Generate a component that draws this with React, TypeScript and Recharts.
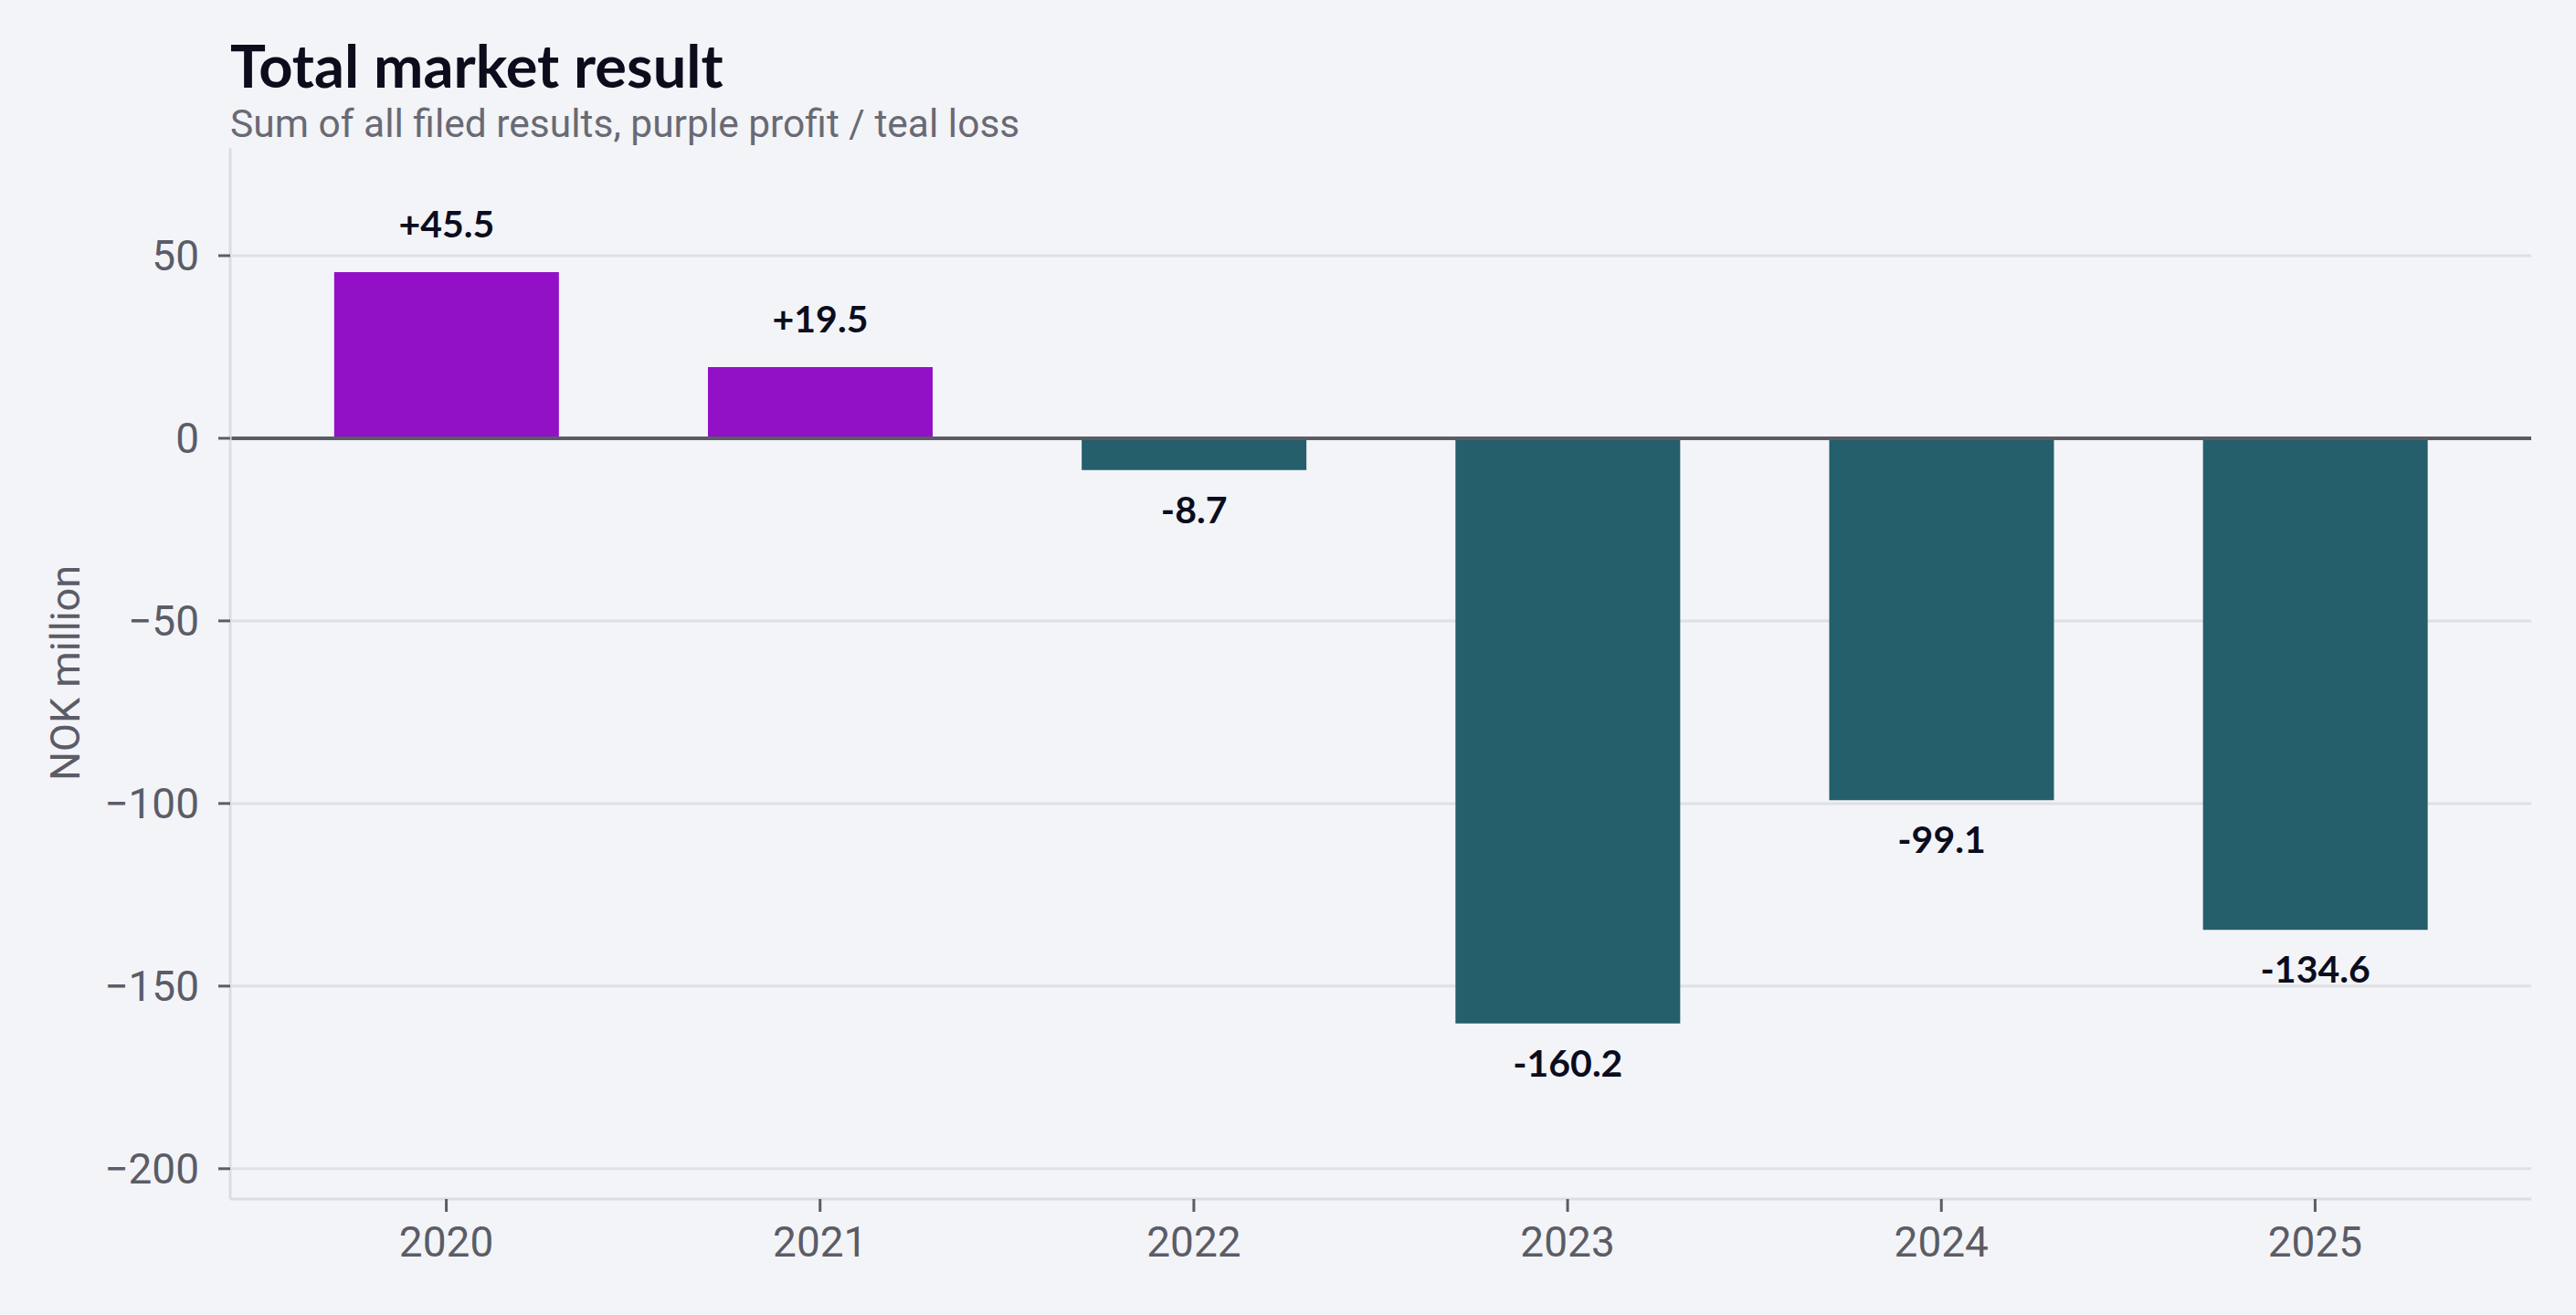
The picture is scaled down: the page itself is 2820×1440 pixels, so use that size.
import React from "react";
import {
  BarChart,
  Bar,
  XAxis,
  YAxis,
  CartesianGrid,
  ReferenceLine,
  LabelList,
  Cell,
} from "recharts";

const years = ["2020", "2021", "2022", "2023", "2024", "2025"];
const results = [45.5, 19.5, -8.7, -160.2, -99.1, -134.6];
const yTicks = [-200, -150, -100, -50, 0, 50];

const data = years.map((year, i) => ({ year, result: results[i] }));

const BG = "#f3f4f8";
const PROFIT = "#9210c6";
const LOSS = "#245f6b";
const AXIS_TEXT = "#5b5c66";

const ValueLabel = (props: any) => {
  const { x, y, width, height, value } = props;
  const top = Math.min(y, y + height);
  const bottom = Math.max(y, y + height);
  const text = value > 0 ? `+${value.toFixed(1)}` : value.toFixed(1);
  return (
    <text
      x={x + width / 2}
      y={value >= 0 ? top - 38 : bottom + 58}
      textAnchor="middle"
      fill="#0b0d1e"
      fontFamily="Lato"
      fontWeight="bold"
      fontSize={41}
    >
      {text}
    </text>
  );
};

const AxisTitle = () => (
  <text
    transform="translate(87, 737) rotate(-90)"
    textAnchor="middle"
    fill={AXIS_TEXT}
    fontFamily="Roboto"
    fontSize={45}
  >
    NOK million
  </text>
);

export default function App() {
  return (
    <div
      style={{
        position: "fixed",
        top: 0,
        left: 0,
        width: 2820,
        height: 1440,
        background: BG,
      }}
    >
      <svg
        width={2820}
        height={160}
        style={{ position: "absolute", top: 0, left: 0 }}
      >
        <text x={252} y={96} fill="#0b0c1c" fontFamily="Lato" fontWeight="bold" fontSize={65}>
          Total market result
        </text>
        <text x={252} y={150} fill="#696a74" fontFamily="Roboto" fontSize={42.5}>
          Sum of all filed results, purple profit / teal loss
        </text>
      </svg>
      <div style={{ position: "absolute", top: 0, left: 0 }}>
        <BarChart
          width={2820}
          height={1440}
          data={data}
          margin={{ top: 162, right: 49, left: 0, bottom: 0 }}
          barCategoryGap="20%"
        >
          <CartesianGrid
            vertical={false}
            horizontalValues={yTicks}
            stroke="#dfe0e6"
            strokeWidth={3}
          />
          <XAxis
            dataKey="year"
            height={127}
            padding={{ left: 32, right: 32 }}
            axisLine={{ stroke: "#dcdde3", strokeWidth: 3 }}
            tickLine={{ stroke: AXIS_TEXT, strokeWidth: 3 }}
            tickSize={14}
            tickMargin={16}
            tick={{ fill: AXIS_TEXT, fontFamily: "Roboto", fontSize: 46 }}
          />
          <YAxis
            width={252}
            domain={[-208.3, 79.5]}
            ticks={yTicks}
            allowDataOverflow
            axisLine={{ stroke: "#dcdde3", strokeWidth: 3 }}
            tickLine={{ stroke: AXIS_TEXT, strokeWidth: 3 }}
            tickSize={13}
            tickMargin={21}
            tick={{ fill: AXIS_TEXT, fontFamily: "Roboto", fontSize: 46 }}
            tickFormatter={(v: number) => String(v).replace("-", "\u2212")}
            label={<AxisTitle />}
          />
          <Bar dataKey="result" isAnimationActive={false}>
            {data.map((d) => (
              <Cell key={d.year} fill={d.result >= 0 ? PROFIT : LOSS} />
            ))}
            <LabelList dataKey="result" content={<ValueLabel />} />
          </Bar>
          <ReferenceLine y={0} stroke="#5b5b66" strokeWidth={4} />
        </BarChart>
      </div>
    </div>
  );
}
